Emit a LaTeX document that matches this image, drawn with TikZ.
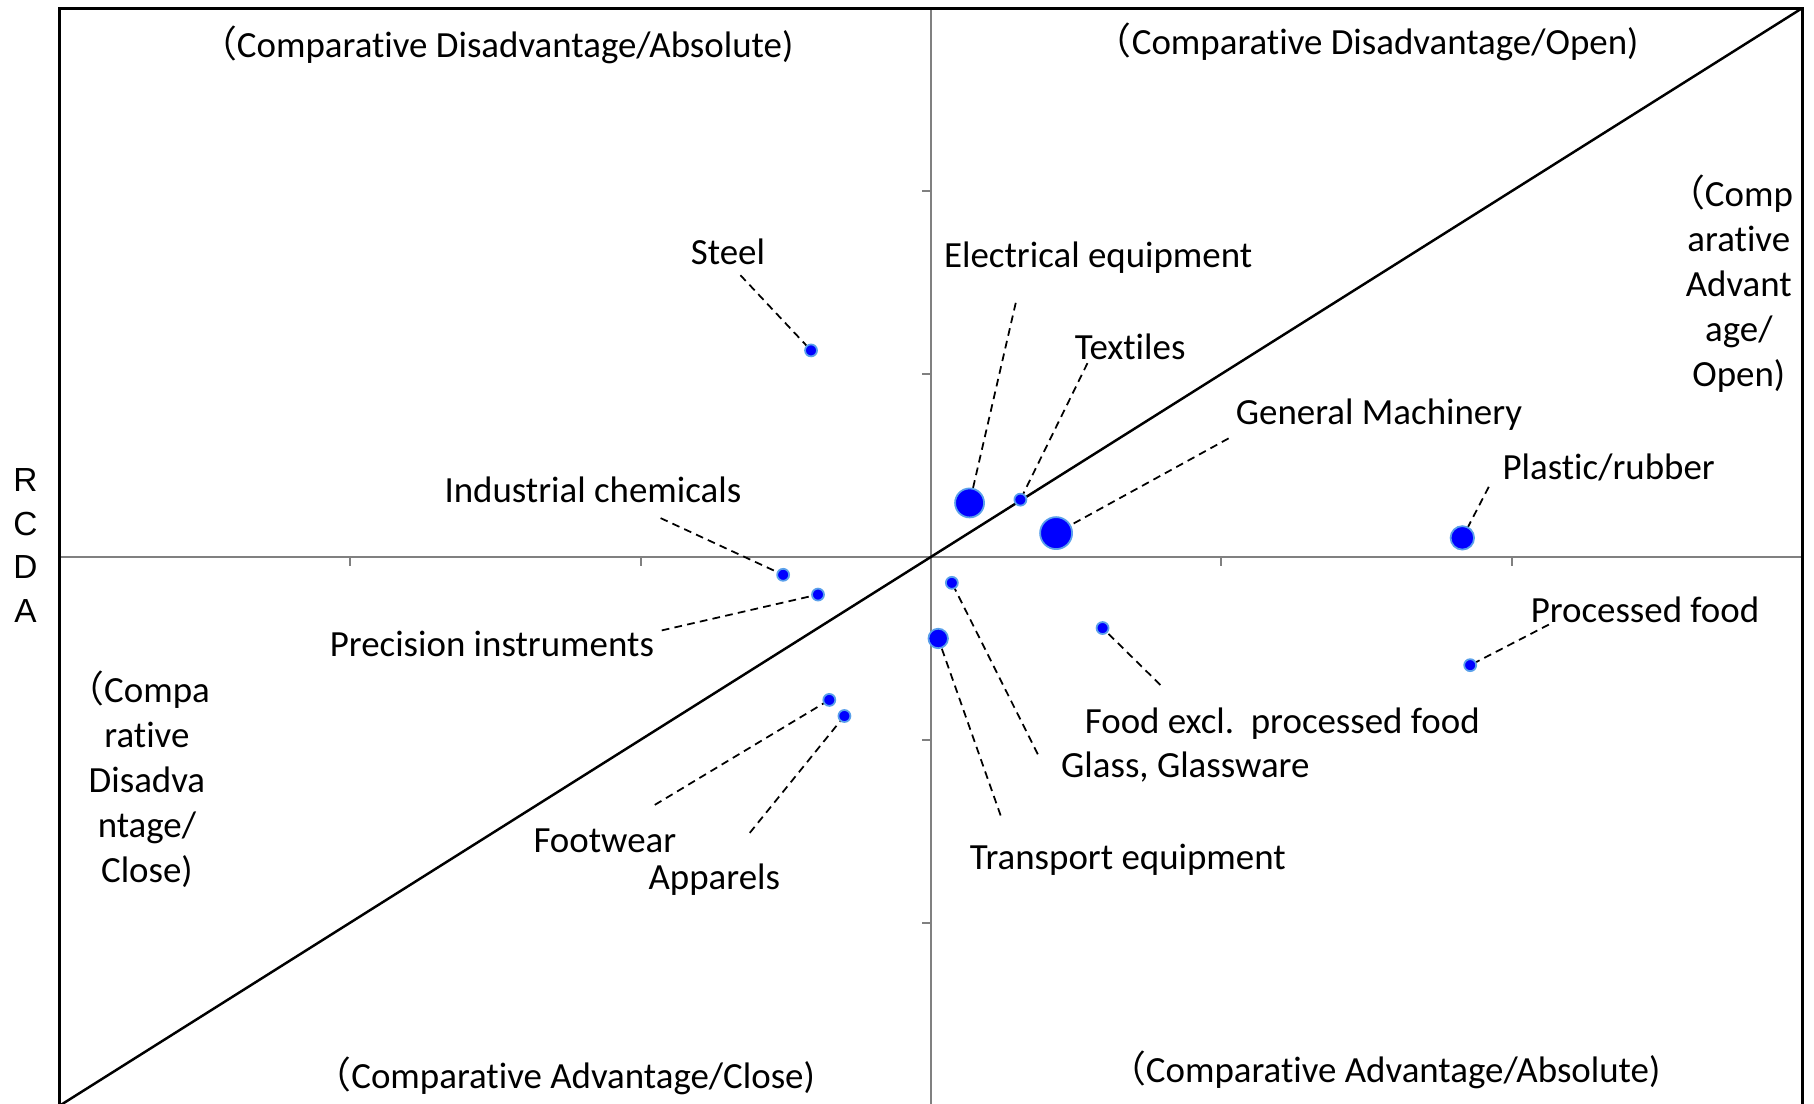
\documentclass[tikz,border=0pt]{standalone}
\usepackage{fontspec}
\setmainfont{Carlito}[Ligatures=NoCommon]
\newfontfamily\cjk{Noto Sans CJK JP}
\newfontfamily\arialfont{Liberation Sans}
\newcommand{\fwparen}{\kern-0.45em{\cjk （}}
\definecolor{bubblefill}{RGB}{0,0,255}
\definecolor{bubbleedge}{RGB}{90,160,235}
\tikzset{
	bubble/.style={circle, fill=bubblefill, draw=bubbleedge, line width=0.5pt, inner sep=0pt, minimum size=#1},
	bubble/.default=0.12cm,
	leader/.style={line width=0.5pt, dash pattern=on 2.2pt off 1.5pt},
	lbl/.style={font=\fontsize{10.5}{12.8}\selectfont, inner sep=0pt},
	axis/.style={gray, line width=0.6pt}
}

\begin{document}
\begin{tikzpicture}[x=2.904cm, y=1.829cm]
			\useasboundingbox (-3.206,-2.991) rectangle (3.041,3.045);
			
			% axes and ticks
			\draw[axis] (-3,0) -- (3,0);
			\draw[axis] (0,-3) -- (0,3);
			\foreach \x in {-2,-1,1,2}
				\draw[axis] (\x,0) -- (\x,-0.05);
			\foreach \y in {-2,-1,1,2}
				\draw[axis] (0,\y) -- (-0.031,\y);
			
			\draw[line width=0.9pt] (-3,-3) rectangle (3,3);
			\draw[line width=0.7pt] (-3,-3) -- (3,3);
			
			\node[font=\arialfont\fontsize{9.5}{12.4}\selectfont, align=center, inner sep=0pt] (rcda) at (-3.118,0.063){R\\C\\D\\A};
			
			% quadrants
			\node[lbl] (qDA) at (-1.467,2.799){\fwparen Comparative Disadvantage/Absolute)};
			\node[lbl] (qDO) at (1.529,2.818){\fwparen Comparative Disadvantage/Open)};
			\node[lbl] (qAC) at (-1.233,-2.838){\fwparen Comparative Advantage/Close)};
			\node[lbl] (qAA) at (1.591,-2.805){\fwparen Comparative Advantage/Absolute)};
			\node[lbl, align=center] (qAO) at (2.782,1.495){\fwparen Comp\\arative\\Advant\\age/\\Open)};
			\node[lbl, align=center] (qDC) at (-2.700,-1.214){\fwparen Compa\\rative\\Disadva\\ntage/\\Close)};
			
			% industries
			\node[bubble] (steel) at (-0.413,1.129){};
			\node[bubble] (chem) at (-0.509,-0.098){};
			\node[bubble] (prec) at (-0.389,-0.206){};
			\node[bubble] (foot) at (-0.350,-0.782){};
			\node[bubble] (app) at (-0.298,-0.870){};
			\node[bubble=0.29cm] (elec) at (0.133,0.295){};
			\node[bubble] (textiles) at (0.308,0.313){};
			\node[bubble=0.32cm] (gmach) at (0.431,0.130){};
			\node[bubble=0.235cm] (plast) at (1.830,0.104){};
			\node[bubble] (glass) at (0.072,-0.142){};
			\node[bubble=0.195cm] (trans) at (0.025,-0.446){};
			\node[bubble] (foodx) at (0.591,-0.389){};
			\node[bubble] (pfood) at (1.857,-0.592){};
			
			\node[lbl] (steelL) at (-0.699,1.668){Steel};
			\node[lbl] (chemL) at (-1.164,0.364){Industrial chemicals};
			\node[lbl] (precL) at (-1.512,-0.476){Precision instruments};
			\node[lbl] (footL) at (-1.123,-1.553){Footwear};
			\node[lbl] (appL) at (-0.746,-1.766){Apparels};
			\node[lbl] (elecL) at (0.576,1.635){Electrical equipment};
			\node[lbl] (textilesL) at (0.686,1.148){Textiles};
			\node[lbl] (gmachL) at (1.543,0.780){General Machinery};
			\node[lbl] (plastL) at (2.334,0.490){Plastic/rubber};
			\node[lbl] (glassL) at (0.876,-1.150){Glass, Glassware};
			\node[lbl] (transL) at (0.678,-1.655){Transport equipment};
			\node[lbl] (foodxL) at (1.210,-0.912){Food excl.\ \ processed food};
			\node[lbl] (pfoodL) at (2.459,-0.288){Processed food};
			
			% leader lines
			\coordinate (steelC) at (-0.656,1.540);
			\coordinate (chemC) at (-0.931,0.212);
			\coordinate (precC) at (-0.927,-0.402);
			\coordinate (footC) at (-0.951,-1.356);
			\coordinate (appC) at (-0.624,-1.509);
			\coordinate (elecC) at (0.292,1.389);
			\coordinate (textilesC) at (0.539,1.059);
			\coordinate (gmachC) at (1.025,0.648);
			\coordinate (plastC) at (1.921,0.383);
			\coordinate (glassC) at (0.368,-1.079);
			\coordinate (transC) at (0.240,-1.414);
			\coordinate (foodxC) at (0.790,-0.700);
			\coordinate (pfoodC) at (2.128,-0.370);
			
			\foreach \n in {steel,chem,prec,foot,app,elec,textiles,gmach,plast,glass,trans,foodx,pfood}
				\draw[leader] (\n C) -- (\n);
\end{tikzpicture}
\end{document}
